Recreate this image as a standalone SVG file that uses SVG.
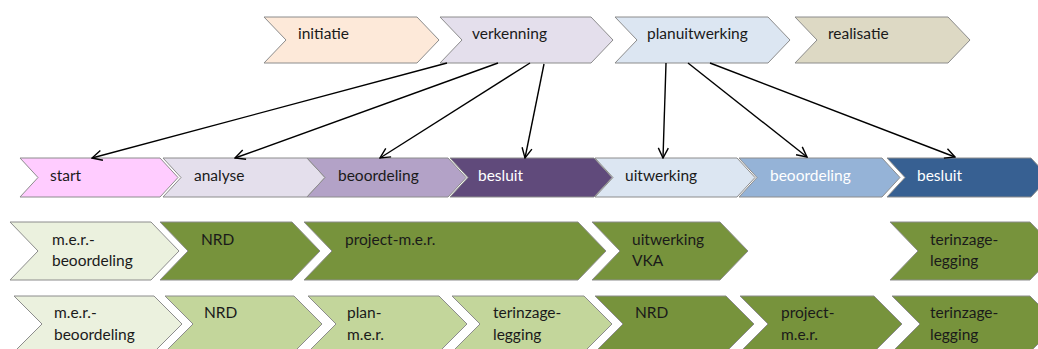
<svg xmlns="http://www.w3.org/2000/svg" width="1038" height="349" viewBox="0 0 1038 349">
<defs>
<marker id="arr" markerWidth="12" markerHeight="12" refX="11" refY="6" orient="auto" markerUnits="userSpaceOnUse">
<path d="M1,1 L11,6 L1,11" fill="none" stroke="#000" stroke-width="1.4"/>
</marker>
<style>
.s{stroke:#8c8c8c;stroke-width:1}
.t{font-family:Lato,"Liberation Sans",sans-serif;font-size:15.5px;fill:#1a1a1a}
.w{fill:#ffffff}
.c line{stroke:#000;stroke-width:1.4;marker-end:url(#arr)}
</style>
</defs>
<rect width="1038" height="349" fill="#fff"/>
<!-- top row -->
<g id="initiatie"><polygon class="s" fill="#FDE9D9" points="264,17 417,17 439,40 417,63 264,63 286,40"/><text class="t" x="298" y="38.5">initiatie</text></g>
<g id="verkenning"><polygon class="s" fill="#E4DFEC" points="440,17 591,17 613,40 591,63 440,63 462,40"/><text class="t" x="472" y="38.5">verkenning</text></g>
<g id="planuitwerking"><polygon class="s" fill="#DCE6F2" points="615,17 768,17 790,40 768,63 615,63 637,40"/><text class="t" x="647" y="38.5">planuitwerking</text></g>
<g id="realisatie"><polygon class="s" fill="#DDD9C4" points="795,17 948,17 970,40 948,63 795,63 817,40"/><text class="t" x="828" y="38.5">realisatie</text></g>
<!-- middle row -->
<g id="start"><polygon class="s" fill="#FFCCFF" points="20,158 160,158 178,177.5 160,197 20,197 38,177.5"/><text class="t" x="50" y="181">start</text></g>
<g id="analyse"><polygon class="s" fill="#E4DFEC" points="163,158 307,158 325,177.5 307,197 163,197 181,177.5"/><text class="t" x="194" y="181">analyse</text></g>
<g id="beoordeling1"><polygon class="s" fill="#B3A2C7" points="307,158 448,158 466,177.5 448,197 307,197 325,177.5"/><text class="t" x="338" y="181">beoordeling</text></g>
<g id="besluit1"><polygon class="s" fill="#604A7B" points="450,158 594,158 612,177.5 594,197 450,197 468,177.5"/><text class="t w" x="478" y="181">besluit</text></g>
<g id="uitwerking"><polygon class="s" fill="#DCE6F2" points="595,158 737,158 755,177.5 737,197 595,197 613,177.5"/><text class="t" x="625" y="181">uitwerking</text></g>
<g id="beoordeling2"><polygon class="s" fill="#95B3D7" points="739,158 882,158 900,177.5 882,197 739,197 757,177.5"/><text class="t w" x="770" y="181">beoordeling</text></g>
<g id="besluit2"><polygon class="s" fill="#376092" points="887,158 1031,158 1049,177.5 1031,197 887,197 905,177.5"/><text class="t w" x="917" y="181">besluit</text></g>
<!-- row 3 -->
<g id="mer1"><polygon class="s" fill="#EBF1DE" points="10,222 151,222 179,251 151,280 10,280 38,251"/><text class="t" x="52" y="245">m.e.r.-</text><text class="t" x="52" y="266">beoordeling</text></g>
<g id="nrd1"><polygon class="s" fill="#77933C" points="160,222 292,222 320,251 292,280 160,280 188,251"/><text class="t" x="201" y="245">NRD</text></g>
<g id="projectmer1"><polygon class="s" fill="#77933C" points="304,222 578,222 606,251 578,280 304,280 332,251"/><text class="t" x="345" y="245">project-m.e.r.</text></g>
<g id="vka"><polygon class="s" fill="#77933C" points="592,222 720,222 748,251 720,280 592,280 620,251"/><text class="t" x="632" y="245">uitwerking</text><text class="t" x="632" y="266">VKA</text></g>
<g id="terinzage1"><polygon class="s" fill="#77933C" points="890,222 1030,222 1058,251 1030,280 890,280 918,251"/><text class="t" x="930" y="245">terinzage-</text><text class="t" x="930" y="266">legging</text></g>
<!-- row 4 -->
<g id="mer2"><polygon class="s" fill="#EBF1DE" points="14,296 154,296 182,324 154,352 14,352 42,324"/><text class="t" x="54" y="318">m.e.r.-</text><text class="t" x="54" y="340">beoordeling</text></g>
<g id="nrd2"><polygon class="s" fill="#C3D69B" points="165,296 294,296 322,324 294,352 165,352 193,324"/><text class="t" x="204" y="318">NRD</text></g>
<g id="planmer"><polygon class="s" fill="#C3D69B" points="308,296 439,296 467,324 439,352 308,352 336,324"/><text class="t" x="347" y="318">plan-</text><text class="t" x="347" y="340">m.e.r.</text></g>
<g id="terinzage2"><polygon class="s" fill="#C3D69B" points="452,296 584,296 612,324 584,352 452,352 480,324"/><text class="t" x="493" y="318">terinzage-</text><text class="t" x="493" y="340">legging</text></g>
<g id="nrd3"><polygon class="s" fill="#77933C" points="595,296 726,296 754,324 726,352 595,352 623,324"/><text class="t" x="635" y="318">NRD</text></g>
<g id="projectmer2"><polygon class="s" fill="#77933C" points="740,296 874,296 902,324 874,352 740,352 768,324"/><text class="t" x="781" y="318">project-</text><text class="t" x="781" y="340">m.e.r.</text></g>
<g id="terinzage3"><polygon class="s" fill="#77933C" points="892,296 1030,296 1058,324 1030,352 892,352 920,324"/><text class="t" x="930" y="318">terinzage-</text><text class="t" x="930" y="340">legging</text></g>
<!-- connectors -->
<g id="connectors" class="c">
<line x1="447" y1="63" x2="92" y2="158"/>
<line x1="498" y1="63" x2="235" y2="158"/>
<line x1="530" y1="63" x2="380" y2="158"/>
<line x1="544" y1="64" x2="525" y2="158"/>
<line x1="666" y1="63" x2="663" y2="158"/>
<line x1="688" y1="63" x2="807" y2="157"/>
<line x1="710" y1="63" x2="955" y2="157"/>
</g>
</svg>
